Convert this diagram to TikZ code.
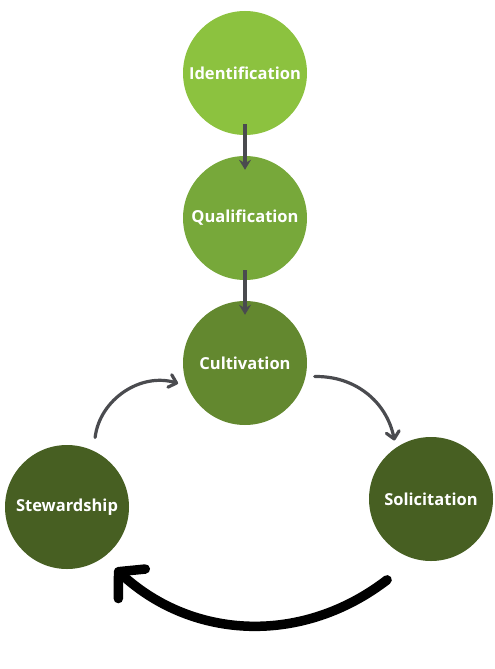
\documentclass[tikz,border=0pt]{standalone}
\usepackage{fontspec}
\setmainfont{Open Sans}
\usepackage{tikz}
\usetikzlibrary{positioning}
\usetikzlibrary{calc}
\usetikzlibrary{arrows.meta}
\definecolor{greenA}{HTML}{8CC23F}
\definecolor{greenB}{HTML}{77A83A}
\definecolor{greenC}{HTML}{63882F}
\definecolor{greenD}{HTML}{475F22}
\definecolor{arrowgray}{HTML}{4A4B4F}

\begin{document}
\begin{tikzpicture}[x=1pt, y=-1pt,
  stage/.style={circle, minimum size=124pt, inner sep=0pt, text=white, font=\bfseries\fontsize{16.5}{19}\selectfont},
  flow/.style={draw=arrowgray, line width=4pt, -{Stealth[length=10pt, width=12pt]}},
  loop/.style={draw=arrowgray, line width=3.2pt, line cap=round, -{Straight Barb[length=7pt, width=13pt, round]}},
  back/.style={draw=black, line width=9.5pt, line cap=round, -{Straight Barb[length=18pt, width=40pt, round]}}]
\useasboundingbox (0,0) rectangle (495,669);
% -- stages --
\node[stage, fill=greenA] (ident) at (245,73) {Identification};
\node[stage, fill=greenB] (qual) at (245,218) {Qualification};
\node[stage, fill=greenC] (cult) at (245,363) {Cultivation};
\node[stage, fill=greenD] (stew) at (67,507) {Stewardship};
\node[stage, fill=greenD] (solic) at (431,499) {Solicitation};
% -- straight arrows --
\draw[flow] ([yshift=11pt]ident.south) -- ([yshift=-14pt]qual.north);
\draw[flow] ([yshift=10pt]qual.south) -- ([yshift=-14pt]cult.north);
% -- cycle arrows --
\coordinate (s1) at ($(stew.center)+(68:75pt)$);
\coordinate (c1) at ($(cult.center)+(197:70pt)$);
\coordinate (c2) at ($(cult.center)+(-11:71pt)$);
\coordinate (o1) at ($(solic.center)+(122:69pt)$);
\coordinate (o2) at ($(solic.center)+(241.5:92pt)$);
\coordinate (s2) at ($(stew.center)+(-52:78pt)$);
\draw[loop] (s1) to[bend left=50] (c1);
\draw[loop] (c2) to[bend left=40] (o1);
\draw[back] (o2) to[bend left=40] (s2);
\end{tikzpicture}
\end{document}
